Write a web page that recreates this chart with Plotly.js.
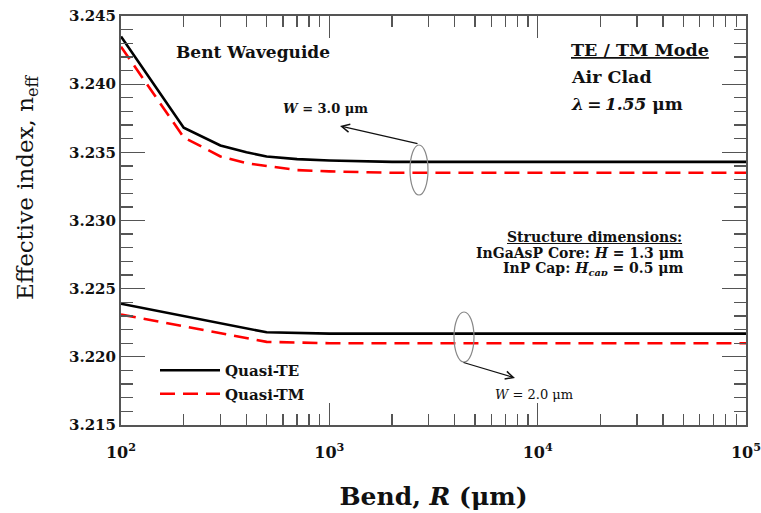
<!DOCTYPE html>
<html>
<head>
<meta charset="utf-8">
<script src="https://cdn.plot.ly/plotly-3.0.1.min.js"></script>
<style>
  html, body { margin: 0; padding: 0; background: #fff; }
  #chart { width: 761px; height: 513px; }
</style>
</head>
<body>
<div id="chart"></div>
<script>
// Bend radius R (µm) and effective index for the two waveguide widths
const bendW3 = [100, 200, 300, 400, 500, 700, 1000, 2000, 10000, 100000];
const teW3   = [3.2435, 3.2368, 3.2355, 3.2350, 3.2347, 3.2345, 3.2344, 3.2343, 3.2343, 3.2343];
const tmW3   = [3.24275, 3.2361, 3.2347, 3.2342, 3.2340, 3.2337, 3.2336, 3.2335, 3.2335, 3.2335];

const bendW2 = [100, 500, 1000, 10000, 100000];
const teW2   = [3.2239, 3.2218, 3.2217, 3.2217, 3.2217];
const tmW2   = [3.2231, 3.2211, 3.2210, 3.2210, 3.2210];

const xTickVals  = [100, 1000, 10000, 100000];
const xTickText  = ['10<sup>2</sup>', '10<sup>3</sup>', '10<sup>4</sup>', '10<sup>5</sup>'];
const yTickVals  = [3.215, 3.220, 3.225, 3.230, 3.235, 3.240, 3.245];
const yTickText  = ['3.215', '3.220', '3.225', '3.230', '3.235', '3.240', '3.245'];

const SERIF = 'DejaVu Serif, serif';
const FRAME = '#555555';
const INK = '#111111';

// plot-area geometry (pixels) used to place notes in paper coordinates
const W = 761, H = 513;
const M = { l: 121, r: 15, t: 16, b: 88 };
const PW = W - M.l - M.r, PH = H - M.t - M.b;
const px = x => (x - M.l) / PW;
const py = y => (H - M.b - y) / PH;

// minor tick positions: 2..9 within each decade
const xMinor = [];
for (let d = 100; d < 100000; d *= 10) {
  for (let k = 2; k <= 9; k++) xMinor.push(k * d);
}

const teLine = { color: '#000000', width: 2.6 };
const tmLine = { color: '#ff0000', width: 2.6, dash: '15px,8px' };

const traces = [
  { x: bendW3, y: teW3, mode: 'lines', name: 'Quasi-TE', line: teLine, legendgroup: 'te' },
  { x: bendW3, y: tmW3, mode: 'lines', name: 'Quasi-TM', line: tmLine, legendgroup: 'tm' },
  { x: bendW2, y: teW2, mode: 'lines', name: 'Quasi-TE', line: teLine, legendgroup: 'te', showlegend: false },
  { x: bendW2, y: tmW2, mode: 'lines', name: 'Quasi-TM', line: tmLine, legendgroup: 'tm', showlegend: false },
  // empty trace that carries the top/right tick axes of the frame
  { x: [], y: [], xaxis: 'x2', yaxis: 'y2', mode: 'lines', showlegend: false, hoverinfo: 'skip' }
];

const boldFont = (size) => ({ family: SERIF, size: size, color: INK, weight: 'bold' });
const TH = '\u2009';

const annotations = [
  { text: 'Bent Waveguide', x: px(253), y: py(52), xanchor: 'center', yanchor: 'middle', font: boldFont(17) },
  { text: '<u>TE / TM Mode</u>', x: px(569), y: py(50), xanchor: 'left', yanchor: 'middle', font: boldFont(17.5) },
  { text: 'Air Clad', x: px(569), y: py(77), xanchor: 'left', yanchor: 'middle', font: boldFont(17.5) },
  { text: '<i>λ</i>' + TH + '=' + TH + '<i>1.55</i> μm', x: px(569), y: py(104), xanchor: 'left', yanchor: 'middle', font: boldFont(17) },
  { text: '<i>W</i> = 3.0 μm', x: px(325), y: py(108), xanchor: 'center', yanchor: 'middle', font: boldFont(13) },
  { text: '<i>W</i> = 2.0 μm', x: px(534), y: py(394), xanchor: 'center', yanchor: 'middle',
    font: { family: SERIF, size: 13, color: INK } },
  // structure notes: three tightly spaced lines
  { text: '<u>Structure dimensions:</u>', x: px(684), y: py(237), xanchor: 'right', yanchor: 'middle',
    height: 14, font: boldFont(14) },
  { text: 'InGaAsP Core: <i>H</i> = 1.3 μm', x: px(686), y: py(253), xanchor: 'right', yanchor: 'middle',
    height: 14, font: boldFont(14) },
  { text: 'InP Cap: <i>H</i><sub><i>cap</i></sub> = 0.5 μm', x: px(686), y: py(268.5), xanchor: 'right', yanchor: 'middle',
    height: 14, font: boldFont(14) },
  // pointer arrows from the width ellipses
  { text: '', x: px(340), y: py(126), ax: 79, ay: 18, showarrow: true, arrowhead: 5, arrowsize: 1.3,
    arrowwidth: 1.2, arrowcolor: INK },
  { text: '', x: px(515), y: py(378), ax: -53, ay: -16, showarrow: true, arrowhead: 5, arrowsize: 1.3,
    arrowwidth: 1.2, arrowcolor: INK },
  // y-axis title
  { text: 'Effective index, n<sub>eff</sub>', x: px(27), y: py(187), textangle: -90,
    xanchor: 'center', yanchor: 'middle', font: { family: SERIF, size: 23, color: INK } }
].map(a => Object.assign({ xref: 'paper', yref: 'paper', showarrow: false }, a));

const shapes = [
  { type: 'circle', xref: 'paper', yref: 'paper', x0: px(410), x1: px(428), y0: py(145), y1: py(195),
    line: { color: '#888888', width: 1.2 } },
  { type: 'circle', xref: 'paper', yref: 'paper', x0: px(454), x1: px(474), y0: py(312), y1: py(362),
    line: { color: '#888888', width: 1.2 } }
];

const xCommon = {
  type: 'log', range: [2, 5],
  tickmode: 'array', tickvals: xTickVals,
  ticks: 'inside', ticklen: 22, tickwidth: 1.3, tickcolor: FRAME,
  minor: { tickmode: 'array', tickvals: xMinor, ticks: 'inside', ticklen: 11, tickwidth: 1.3, tickcolor: FRAME },
  showline: true, linecolor: FRAME, linewidth: 2,
  showgrid: false, zeroline: false
};
const yCommon = {
  range: [3.215, 3.245],
  tickmode: 'array', tickvals: yTickVals,
  ticks: 'inside', ticklen: 24, tickwidth: 1.3, tickcolor: FRAME,
  minor: { dtick: 0.001, ticks: 'inside', ticklen: 12, tickwidth: 1.3, tickcolor: FRAME },
  showline: true, linecolor: FRAME, linewidth: 2,
  showgrid: false, zeroline: false
};

const layout = {
  width: W, height: H,
  margin: M,
  paper_bgcolor: '#ffffff',
  plot_bgcolor: '#ffffff',
  showlegend: true,
  legend: {
    x: px(155), y: py(354), xanchor: 'left', yanchor: 'top',
    bgcolor: 'rgba(0,0,0,0)', itemwidth: 60, tracegroupgap: 1,
    font: boldFont(15)
  },
  xaxis: Object.assign({}, xCommon, {
    ticktext: xTickText, tickfont: boldFont(16), ticklabelstandoff: 12, ticklabeloverflow: 'allow',
    title: { text: '<b>Bend, <i>R</i> (μm)</b>', font: { family: SERIF, size: 25, color: INK }, standoff: 26 }
  }),
  xaxis2: Object.assign({}, xCommon, { overlaying: 'x', side: 'top', showticklabels: false }),
  yaxis: Object.assign({}, yCommon, { ticktext: yTickText, tickfont: boldFont(15) }),
  yaxis2: Object.assign({}, yCommon, { overlaying: 'y', side: 'right', showticklabels: false }),
  annotations: annotations,
  shapes: shapes
};

Plotly.newPlot('chart', traces, layout, { displayModeBar: false, staticPlot: true });
</script>
</body>
</html>
